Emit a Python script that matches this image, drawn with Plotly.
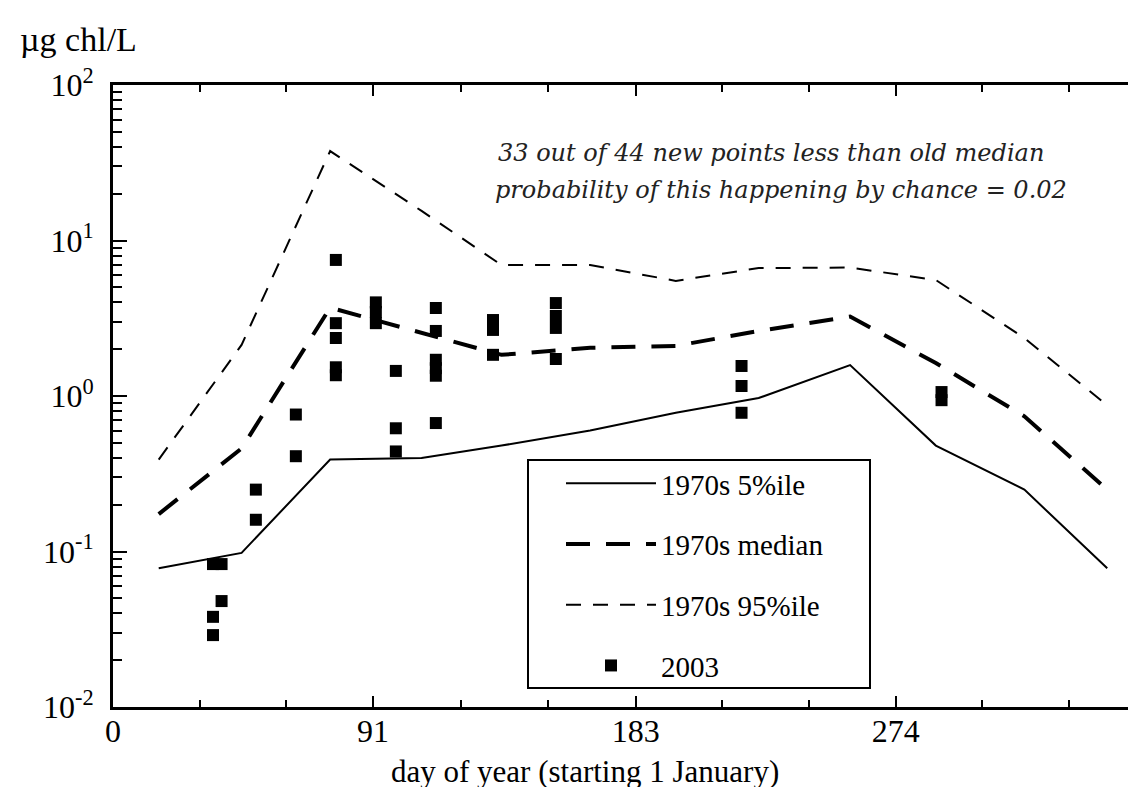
import plotly.graph_objects as go

# ---- data ----
month_days = [16, 45, 76, 108, 136, 167, 197, 226, 258, 288, 319, 348]
p05 = [0.078, 0.098, 0.39, 0.40, 0.48, 0.60, 0.78, 0.97, 1.58, 0.48, 0.25, 0.078]
median = [0.174, 0.46, 3.7, 2.54, 1.84, 2.04, 2.1, 2.62, 3.24, 1.63, 0.74, 0.25]
p95 = [0.39, 2.13, 37.6, 15.5, 6.95, 6.95, 5.5, 6.65, 6.7, 5.57, 2.36, 0.87]

new_days = [35, 38, 38, 35, 35, 50, 50, 64, 64,
            78, 78, 78, 78, 78,
            92, 92, 92,
            99, 99, 99,
            113, 113, 113, 113, 113, 113,
            133, 133, 133,
            155, 155, 155, 155,
            220, 220, 220,
            290, 290]
new_vals = [0.083, 0.083, 0.048, 0.038, 0.029, 0.25, 0.16, 0.76, 0.41,
            7.5, 2.94, 2.36, 1.53, 1.36,
            4.0, 3.47, 2.94,
            1.45, 0.62, 0.44,
            3.68, 2.62, 1.71, 1.51, 1.35, 0.67,
            3.08, 2.66, 1.84,
            3.96, 3.27, 2.74, 1.73,
            1.56, 1.16, 0.78,
            1.06, 0.94]

x_major_ticks = [0, 91, 183, 274]
x_major_labels = ["0", "91", "183", "274"]
x_minor_ticks = [30.4, 60.7, 121.7, 152.3, 213.3, 243.7, 304.3, 334.7]
y_decades = [0.01, 0.1, 1, 10, 100]
y_decade_labels = ["10<sup>-2</sup>", "10<sup>-1</sup>", "10<sup>0</sup>",
                   "10<sup>1</sup>", "10<sup>2</sup>"]
y_minor_ticks = [m * d for d in [0.01, 0.1, 1, 10] for m in range(2, 10)]

annotation_lines = ["33 out of 44 new points less than old median",
                    "probability of this happening by chance = 0.02"]

SERIF = "Liberation Serif, Times New Roman, serif"

# plot-area geometry in pixels
L, R, T, B = 105, 1135, 77, 699
W, H = 1136, 787


def px_x(p):
    return (p - L) / (R - L)


def px_y(p):
    return (B - p) / (B - T)


fig = go.Figure()
fig.add_trace(go.Scatter(x=month_days, y=p05, mode="lines", name="1970s 5%ile",
                         legendgroup="a",
                         line=dict(color="black", width=2)))
fig.add_trace(go.Scatter(x=month_days, y=median, mode="lines", name="1970s median",
                         legendgroup="b",
                         line=dict(color="black", width=4, dash="24px,16px")))
fig.add_trace(go.Scatter(x=month_days, y=p95, mode="lines", name="1970s 95%ile",
                         legendgroup="c",
                         line=dict(color="black", width=2, dash="15px,12px")))
fig.add_trace(go.Scatter(x=new_days, y=new_vals, mode="markers", name="2003",
                         legendgroup="d",
                         marker=dict(symbol="square", size=12, color="black")))

fig.update_layout(
    width=W, height=H,
    margin=dict(l=L, r=W - R, t=T, b=H - B),
    paper_bgcolor="white", plot_bgcolor="white",
    font=dict(family=SERIF, color="black", size=30),
    showlegend=True,
    legend=dict(x=px_x(553), y=px_y(450), xanchor="left", yanchor="top",
                borderwidth=0, bgcolor="rgba(0,0,0,0)",
                font=dict(family=SERIF, size=29), tracegroupgap=20,
                itemwidth=90),
    xaxis=dict(range=[0, (R - L) / 2.857], tickmode="array", tickvals=x_major_ticks,
               ticktext=x_major_labels, ticks="inside", ticklen=11, tickwidth=2,
               tickcolor="black", showline=True, linewidth=3, linecolor="black",
               mirror="ticks", showgrid=False, zeroline=False,
               tickfont=dict(family=SERIF, size=32), ticklabelstandoff=-6,
               minor=dict(tickmode="array", tickvals=x_minor_ticks, ticks="inside",
                          ticklen=7, tickwidth=2, tickcolor="black", showgrid=False)),
    yaxis=dict(type="log", range=[-2, 2], tickmode="array", tickvals=y_decades,
               ticktext=y_decade_labels, ticks="inside", ticklen=14, tickwidth=2,
               tickcolor="black", showline=True, linewidth=3, linecolor="black",
               mirror=False, showgrid=False, zeroline=False,
               tickfont=dict(family=SERIF, size=32), ticklabelstandoff=10),
    yaxis2=dict(type="log", range=[-2, 2], overlaying="y", side="left",
                tickmode="array", tickvals=y_minor_ticks, ticks="inside",
                ticklen=9, tickwidth=2, tickcolor="black", showticklabels=False,
                showline=False, showgrid=False, zeroline=False),
    yaxis3=dict(type="log", range=[-2, 2], overlaying="y", side="right",
                tickmode="array", tickvals=y_decades, ticks="inside",
                ticklen=8, tickwidth=2, tickcolor="black", showticklabels=False,
                showline=False, showgrid=False, zeroline=False),
)

# invisible helper traces to activate the overlay axes
fig.add_trace(go.Scatter(x=[], y=[], yaxis="y2", showlegend=False))
fig.add_trace(go.Scatter(x=[], y=[], yaxis="y3", showlegend=False))

# faint dotted right frame
fig.add_shape(type="line", xref="paper", yref="paper", x0=1, x1=1, y0=0, y1=1,
              line=dict(color="#999999", width=1, dash="dot"))

# legend frame
fig.add_shape(type="rect", xref="paper", yref="paper",
              x0=px_x(520), x1=px_x(862), y0=px_y(680), y1=px_y(452),
              line=dict(color="black", width=2), fillcolor="rgba(0,0,0,0)",
              layer="above")

# y unit label
fig.add_annotation(text="\u00b5g chl/L", xref="paper", yref="paper",
                   x=px_x(10), y=px_y(31), xanchor="left",
                   yanchor="middle", showarrow=False,
                   font=dict(family=SERIF, size=34, color="black"))
# x title
fig.add_annotation(text="day of year (starting 1 January)", xref="paper", yref="paper",
                   x=px_x(577), y=px_y(763), xanchor="center",
                   yanchor="middle", showarrow=False,
                   font=dict(family=SERIF, size=31, color="black"))
# statistics note
note_centers = [763, 773]
note_rows = [145, 182]
for line, cx, cy in zip(annotation_lines, note_centers, note_rows):
    fig.add_annotation(text=line, xref="paper", yref="paper",
                       x=px_x(cx), y=px_y(cy),
                       xanchor="center", yanchor="middle", showarrow=False,
                       font=dict(family="DejaVu Serif, serif", size=24,
                                 color="#222222", style="italic"))

fig.write_html("out.html")
